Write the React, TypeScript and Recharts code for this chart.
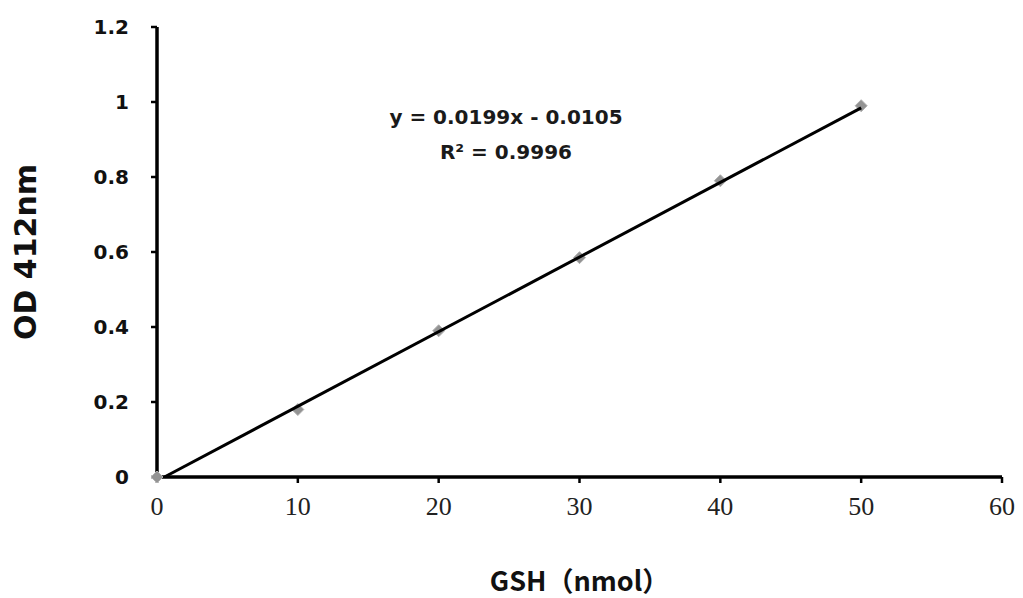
import { ScatterChart, Scatter, XAxis, YAxis, Label } from "recharts"

const gshNmol = [0, 10, 20, 30, 40, 50]
const od412 = [0, 0.18, 0.39, 0.585, 0.79, 0.99]

const xTicks = [0, 10, 20, 30, 40, 50, 60]
const yTicks = [0, 0.2, 0.4, 0.6, 0.8, 1, 1.2]

const slope = 0.0199
const intercept = -0.0105
const equationText = "y = 0.0199x - 0.0105"
const r2Text = "R² = 0.9996"

const points = gshNmol.map((x, i) => ({ x, y: od412[i] }))

// trendline drawn from where it crosses 0 to the last standard
const trendStart = -intercept / slope
const trendEnd = gshNmol[gshNmol.length - 1]
const trend = [trendStart, trendEnd].map((x) => ({ x, y: slope * x + intercept }))

const sans = "'DejaVu Sans', Verdana, sans-serif"

function Diamond(props: any) {
  const { cx, cy } = props
  if (cx == null || cy == null) return null
  const r = 6
  return (
    <path
      d={`M${cx},${cy - r}L${cx + r},${cy}L${cx},${cy + r}L${cx - r},${cy}Z`}
      fill="#939393"
      stroke="#b0b0b0"
      strokeWidth={1}
    />
  )
}

function Equation(props: any) {
  const { viewBox } = props
  if (!viewBox) return null
  const cx = viewBox.x + viewBox.width * 0.413
  const cy = viewBox.y + viewBox.height * 0.216
  return (
    <g fontFamily={sans} fontWeight="bold" fontSize={20} fill="#1a1a1a" textAnchor="middle">
      <text x={cx} y={cy}>{equationText}</text>
      <text x={cx} y={cy + 35}>{r2Text}</text>
    </g>
  )
}

export default function App() {
  return (
    <div style={{ width: 1015, height: 590, background: "#fff" }}>
      <ScatterChart width={1015} height={590} margin={{ top: 19, right: 21, left: 0, bottom: 0 }}>
        <XAxis
          type="number"
          dataKey="x"
          domain={[0, 60]}
          ticks={xTicks}
          interval={0}
          height={121}
          axisLine={{ stroke: "#000", strokeWidth: 3.5 }}
          tickLine={{ stroke: "#000", strokeWidth: 2.5 }}
          tickSize={6}
          tickMargin={14}
          tick={{ fill: "#222", fontSize: 26, fontFamily: "'Liberation Serif', 'Times New Roman', serif" }}
        >
          <Label
            value="GSH（nmol）"
            position="insideBottom"
            offset={7}
            style={{ fontFamily: "'Noto Sans CJK SC', " + sans, fontWeight: "bold", fontSize: 27, fill: "#111" }}
          />
        </XAxis>
        <YAxis
          type="number"
          dataKey="y"
          domain={[0, 1.2]}
          ticks={yTicks}
          interval={0}
          width={149}
          axisLine={{ stroke: "#000", strokeWidth: 3.5 }}
          tickLine={{ stroke: "#000", strokeWidth: 2.5 }}
          tickSize={6}
          tickMargin={22}
          tickFormatter={(v: number) => String(Number(v.toFixed(1)))}
          tick={{ fill: "#111", fontSize: 20, fontWeight: "bold", fontFamily: sans }}
        >
          <Label
            value="OD 412nm"
            angle={-90}
            position="insideLeft"
            offset={17}
            style={{ textAnchor: "middle", fontFamily: sans, fontWeight: "bold", fontSize: 30, fill: "#111" }}
          />
        </YAxis>
        <Scatter data={points} shape={<Diamond />} isAnimationActive={false} />
        <Scatter
          data={trend}
          line={{ stroke: "#000", strokeWidth: 3 }}
          shape={() => <g />}
          isAnimationActive={false}
        />
        <Label content={<Equation />} />
      </ScatterChart>
    </div>
  )
}
